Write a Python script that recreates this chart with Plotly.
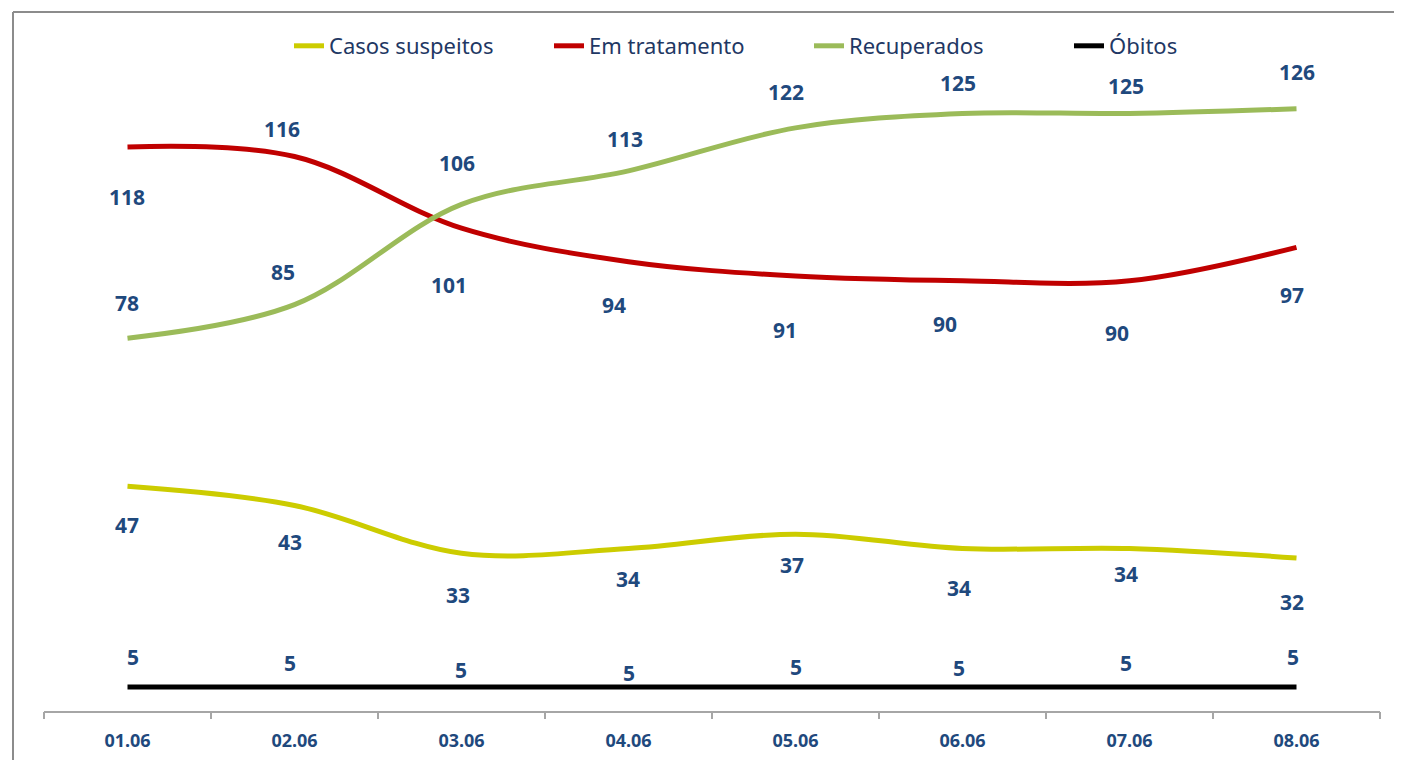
import plotly.graph_objects as go

# ---- data ----
dates = ["01.06", "02.06", "03.06", "04.06", "05.06", "06.06", "07.06", "08.06"]
casos_suspeitos = [47, 43, 33, 34, 37, 34, 34, 32]
em_tratamento = [118, 116, 101, 94, 91, 90, 90, 97]
recuperados = [78, 85, 106, 113, 122, 125, 125, 126]
obitos = [5, 5, 5, 5, 5, 5, 5, 5]

series = [
    ("Casos suspeitos", casos_suspeitos, "#CCCC00"),
    ("Em tratamento", em_tratamento, "#C00000"),
    ("Recuperados", recuperados, "#9BBB59"),
    ("Óbitos", obitos, "#000000"),
]

# label offsets in pixels (style only)
label_yshift = {
    "Casos suspeitos": [-39, -37, -42, -31, -31, -40, -26, -44],
    "Em tratamento": [-50, 28, -57, -43, -54, -43, -52, -48],
    "Recuperados": [35, 33, 41, 32, 36, 31, 28, 37],
    "Óbitos": [30, 24, 17, 14, 20, 19, 24, 30],
}
label_xshift = {
    "Casos suspeitos": [-1, -5, -4, -1, -4, -4, -4, -5],
    "Em tratamento": [-1, -13, -13, -15, -11, -18, -13, -5],
    "Recuperados": [-1, -12, -5, -4, -10, -5, -4, 0],
    "Óbitos": [5, -5, -1, 0, 0, -4, -4, -4],
}

FONT = "Noto Sans"
LABEL_COLOR = "#1F497D"

OFF = 8  # page body margin in the browser
W, H = 1402 - OFF, 760 - OFF
ML = 44 - OFF
MR = W - (1380 - OFF)
MT = 60 - OFF
MB = H - (711 - OFF)
plot_w = W - ML - MR
plot_h = H - MT - MB
px_per_unit = 4.78
ymax = plot_h / px_per_unit


def px_to_paper_x(px):
    return (px - OFF - ML) / plot_w


def px_to_paper_y(py):
    return (H - MB - (py - OFF)) / plot_h


fig = go.Figure()
for name, vals, color in series:
    fig.add_trace(go.Scatter(
        x=list(range(len(dates))), y=vals, name=name, mode="lines",
        line=dict(color=color, width=5, shape="spline", smoothing=1),
        hoverinfo="skip",
    ))

annotations = []
for name, vals, color in series:
    for i, v in enumerate(vals):
        annotations.append(dict(
            x=i, y=v, xref="x", yref="y", text=str(v), showarrow=False,
            yshift=label_yshift[name][i], xshift=label_xshift[name][i],
            font=dict(family=FONT, size=21, color=LABEL_COLOR, weight="bold"),
        ))

shapes = [
    dict(type="line", xref="paper", yref="paper",
         x0=px_to_paper_x(13), x1=px_to_paper_x(1420),
         y0=px_to_paper_y(12), y1=px_to_paper_y(12),
         line=dict(color="#8C8C8C", width=2)),
    dict(type="line", xref="paper", yref="paper",
         x0=px_to_paper_x(13), x1=px_to_paper_x(13),
         y0=px_to_paper_y(12), y1=px_to_paper_y(800),
         line=dict(color="#8C8C8C", width=2)),
]

fig.update_layout(
    width=W, height=H,
    margin=dict(l=ML, r=MR, t=MT, b=MB, autoexpand=False),
    paper_bgcolor="white", plot_bgcolor="white",
    showlegend=True,
    legend=dict(
        orientation="h", x=px_to_paper_x(289), xanchor="left",
        y=px_to_paper_y(46), yanchor="middle",
        font=dict(family=FONT, size=22, color="#1F3864"),
        entrywidth=215, entrywidthmode="pixels",
        itemwidth=30, bgcolor="rgba(0,0,0,0)",
        traceorder="normal",
    ),
    xaxis=dict(
        range=[-0.5, len(dates) - 0.5], automargin=False,
        tickmode="array", tickvals=list(range(len(dates))), ticktext=dates,
        showline=True, linecolor="#A6A6A6", linewidth=2,
        ticks="", showgrid=False, zeroline=False,
        tickfont=dict(family=FONT, size=18, color=LABEL_COLOR, weight="bold"),
        ticklabelstandoff=12,
    ),
    xaxis2=dict(
        overlaying="x", range=[-0.5, len(dates) - 0.5], automargin=False,
        tickmode="array", tickvals=[i - 0.5 for i in range(len(dates) + 1)],
        ticks="outside", ticklen=7, tickwidth=2, tickcolor="#A6A6A6",
        showticklabels=False, showgrid=False, zeroline=False, showline=False,
        side="bottom", anchor="y",
    ),
    yaxis=dict(
        range=[0, ymax], visible=False, showgrid=False, zeroline=False,
        automargin=False,
    ),
    annotations=annotations,
    shapes=shapes,
)

# invisible trace to activate the boundary-tick axis
fig.add_trace(go.Scatter(x=[0], y=[0], xaxis="x2", yaxis="y", mode="markers",
                         marker=dict(opacity=0), showlegend=False, hoverinfo="skip"))

fig.write_html("out.html")
